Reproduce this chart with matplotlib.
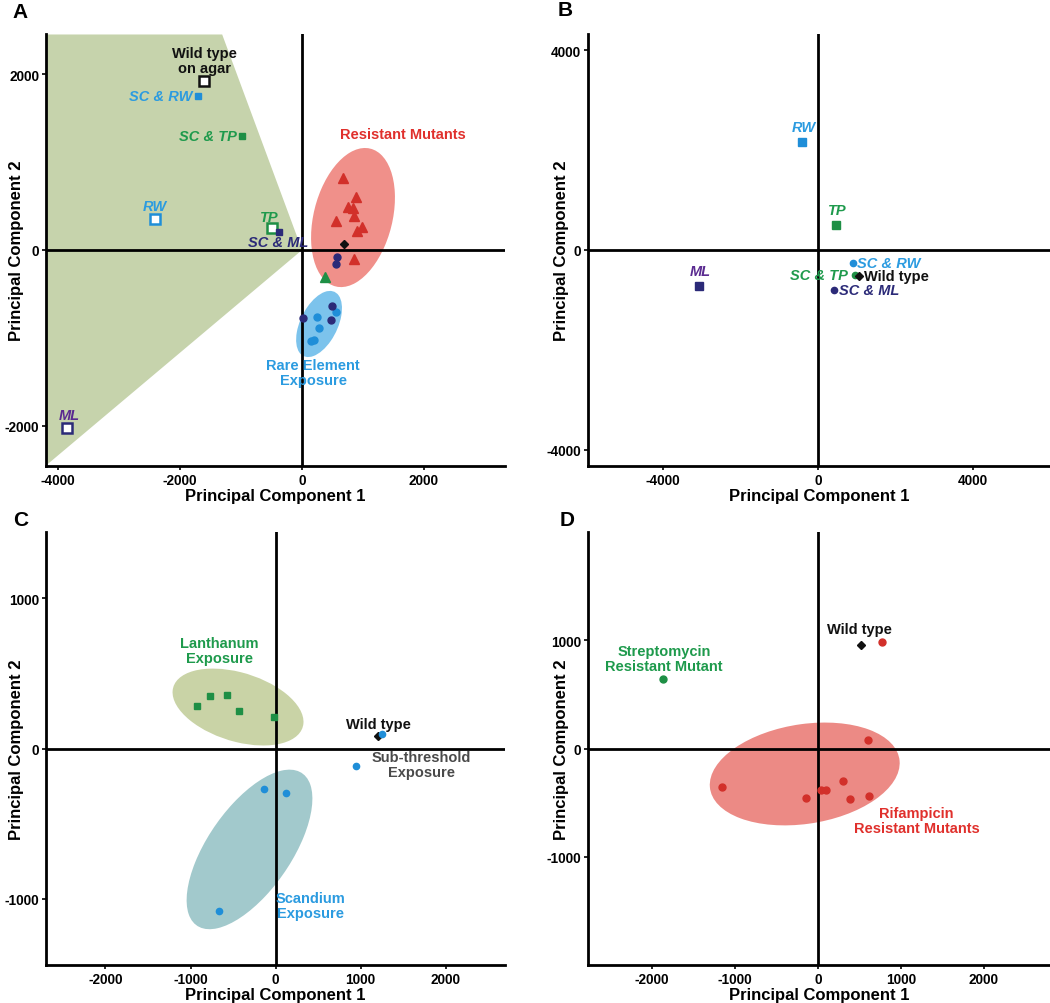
import matplotlib

matplotlib.use("Agg")
import matplotlib.pyplot as plt
from matplotlib.patches import Ellipse, Polygon

plt.rcParams["font.family"] = ["Liberation Sans", "DejaVu Sans"]
plt.rcParams["font.weight"] = "bold"
plt.rcParams["axes.unicode_minus"] = False

BLUE = "#2b9be0"
BLUE_M = "#1f8ed8"
GREEN = "#1e9a4c"
GREEN_M = "#1e8f45"
NAVY = "#2b2a78"
PURPLE = "#5a2a90"
RED = "#e0302c"
RED_M = "#d2302a"
BLACK = "#111111"

# ---------------- panel A ----------------
a_xticks = [-4000, -2000, 0, 2000]
a_yticks = [-2000, 0, 2000]
a_region_x = [-4200, -1310, 0, -4200]
a_region_y = [2450, 2450, 0, -2450]

a_open_names = ["Wild type\non agar", "RW", "TP", "ML"]
a_open_x = [-1610, -2410, -490, -3850]
a_open_y = [1920, 350, 250, -2020]
a_open_colors = [BLACK, BLUE_M, GREEN_M, NAVY]
a_open_textcol = [BLACK, BLUE, GREEN, PURPLE]

a_filled_names = ["SC & RW", "SC & TP", "SC & ML"]
a_filled_x = [-1700, -980, -380]
a_filled_y = [1750, 1300, 205]
a_filled_colors = [BLUE_M, GREEN_M, NAVY]
a_filled_textcol = [BLUE, GREEN, NAVY]

a_resist_x = [672, 885, 754, 836, 852, 557, 984, 902, 852]
a_resist_y = [818, 602, 489, 477, 386, 330, 261, 216, -102]
a_green_tri_x = [377]
a_green_tri_y = [-307]
a_wt_x = [690]
a_wt_y = [68]
a_rare_navy_x = [574, 557, 492, 16, 475]
a_rare_navy_y = [-80, -159, -636, -773, -795]
a_rare_blue_x = [557, 246, 279, 197, 148]
a_rare_blue_y = [-705, -761, -886, -1023, -1034]

# (cx, cy, width, height, angle)
a_resist_ell = (836, 369, 1700, 1226, 58)
a_rare_ell = (279, -841, 914, 544, 45)

# ---------------- panel B ----------------
b_xticks = [-4000, 0, 4000]
b_yticks = [-4000, 0, 4000]
b_sq_names = ["RW", "TP", "ML"]
b_sq_x = [-413, 465, -3071]
b_sq_y = [2160, 500, -720]
b_sq_colors = [BLUE_M, GREEN_M, NAVY]
b_sq_textcol = [BLUE, GREEN, PURPLE]
b_dot_names = ["SC & RW", "SC & TP", "SC & ML"]
b_dot_x = [903, 955, 413]
b_dot_y = [-260, -500, -800]
b_dot_colors = [BLUE_M, GREEN_M, NAVY]
b_dot_textcol = [BLUE, GREEN, NAVY]
b_wt_x = [1058]
b_wt_y = [-520]

# ---------------- panel C ----------------
c_xticks = [-2000, -1000, 0, 1000, 2000]
c_yticks = [-1000, 0, 1000]
c_la_x = [-918, -776, -565, -435, -12]
c_la_y = [286, 352, 359, 252, 213]
c_sc_x = [-141, 129, -670]
c_sc_y = [-266, -299, -1083]
c_sub_x = [941, 1258]
c_sub_y = [-113, 100]
c_wt_x = [1200]
c_wt_y = [86]
c_la_ell = (-441, 276, 1554, 468, -8)
c_sc_ell = (-306, -671, 1670, 725, 31)

# ---------------- panel D ----------------
d_xticks = [-2000, -1000, 0, 1000, 2000]
d_yticks = [-1000, 0, 1000]
d_strep_x = [-1867]
d_strep_y = [645]
d_wt_x = [518]
d_wt_y = [958]
d_rif_x = [771, 602, -1157, -145, 36, 96, 301, 386, 614]
d_rif_y = [986, 83, -359, -461, -387, -387, -304, -470, -442]
d_rif_ell = (-157, -235, 2300, 924, 6)


def setup_axes(ax, xlim, ylim, xticks, yticks, ylab_x):
    ax.set_xlim(*xlim)
    ax.set_ylim(*ylim)
    ax.set_xticks(xticks)
    ax.set_yticks(yticks)
    ax.set_xticklabels([str(t) for t in xticks])
    ax.set_yticklabels([str(t) for t in yticks])
    for side in ("top", "right"):
        ax.spines[side].set_visible(False)
    for side in ("left", "bottom"):
        ax.spines[side].set_linewidth(2)
    ax.tick_params(direction="out", length=3, width=1.2, labelsize=9.8, pad=2)
    ax.axhline(0, color="black", lw=2, zorder=2)
    ax.axvline(0, color="black", lw=2, zorder=2)
    ax.set_xlabel("Principal Component 1", fontsize=12, fontweight="bold")
    ax.set_ylabel("Principal Component 2", fontsize=12, fontweight="bold")
    ax.yaxis.set_label_coords(ylab_x, 0.5)
    ax.xaxis.set_label_coords(0.5, -0.051)


def add_ellipse(ax, ell, color):
    cx, cy, w, h, ang = ell
    ax.add_patch(Ellipse((cx, cy), w, h, angle=ang, facecolor=color,
                         edgecolor="none", zorder=1))


def label(ax, text, x, y, dx, dy, color, ha="center", italic=True, size=10.5):
    ax.annotate(text, (x, y), xytext=(dx, dy), textcoords="offset points",
                ha=ha, va="center", color=color, fontsize=size,
                fontweight="bold", style="italic" if italic else "normal",
                linespacing=1.1, zorder=4)


def group_text(ax, x, y, text, color):
    ax.text(x, y, text, color=color, fontsize=10.5, ha="center", va="center",
            linespacing=1.1, zorder=4)


fig = plt.figure(figsize=(10.5, 10.04), dpi=100)
axA = fig.add_axes([0.0438, 0.5349, 0.4372, 0.4302])
axB = fig.add_axes([0.56, 0.5349, 0.44, 0.4302])
axC = fig.add_axes([0.0438, 0.0378, 0.4372, 0.4313])
axD = fig.add_axes([0.56, 0.0378, 0.44, 0.4313])

for letter, fx, fy in [("A", 20, 12), ("B", 565, 11), ("C", 21, 520), ("D", 567, 520)]:
    fig.text(fx / 1050, 1 - fy / 1004, letter, fontsize=15, fontweight="bold",
             ha="center", va="center")

# ---- A
ax = axA
setup_axes(ax, (-4200, 3330), (-2455, 2455), a_xticks, a_yticks, -0.048)
ax.add_patch(Polygon(list(zip(a_region_x, a_region_y)), closed=True,
                     facecolor="#c6d3ac", edgecolor="none", zorder=0.5))
add_ellipse(ax, a_resist_ell, "#f0908a")
add_ellipse(ax, a_rare_ell, "#7cc3ec")
for x, y, c in zip(a_open_x, a_open_y, a_open_colors):
    ax.plot(x, y, "s", ms=6.5, mfc="white", mec=c, mew=1.8, zorder=3)
for x, y, c in zip(a_filled_x, a_filled_y, a_filled_colors):
    ax.plot(x, y, "s", ms=4.5, color=c, zorder=3)
ax.plot(a_resist_x, a_resist_y, "^", ms=7.5, color=RED_M, ls="none", zorder=3)
ax.plot(a_green_tri_x, a_green_tri_y, "^", ms=7.5, color=GREEN_M, ls="none", zorder=3)
ax.plot(a_rare_blue_x, a_rare_blue_y, "o", ms=5, color=BLUE_M, ls="none", zorder=3)
ax.plot(a_rare_navy_x, a_rare_navy_y, "o", ms=5, color=NAVY, ls="none", zorder=3)
ax.plot(a_wt_x, a_wt_y, "D", ms=4.5, color=BLACK, ls="none", zorder=3)
open_offsets = [(0.5, 15), (0, 9.5), (-2, 8), (1.4, 9.4)]
for name, x, y, c, (dx, dy) in zip(a_open_names, a_open_x, a_open_y,
                                   a_open_textcol, open_offsets):
    label(ax, name, x, y, dx, dy, c, italic=(name != "Wild type\non agar"))
filled_offsets = [(-4.3, 0, "right"), (-3.6, 0, "right"), (-0.7, -7.2, "center")]
for name, x, y, c, (dx, dy, ha) in zip(a_filled_names, a_filled_x, a_filled_y,
                                       a_filled_textcol, filled_offsets):
    label(ax, name, x, y, dx, dy, c, ha=ha)
group_text(ax, 1655, 1318, "Resistant Mutants", RED)
group_text(ax, 180, -1392, "Rare Element\nExposure", BLUE)

# ---- B
ax = axB
setup_axes(ax, (-5940, 5990), (-4320, 4320), b_xticks, b_yticks, -0.041)
for x, y, c in zip(b_sq_x, b_sq_y, b_sq_colors):
    ax.plot(x, y, "s", ms=5.5, color=c, zorder=3)
for name, x, y, c in zip(b_sq_names, b_sq_x, b_sq_y, b_sq_textcol):
    label(ax, name, x, y, 1, 10.5, c)
for x, y, c in zip(b_dot_x, b_dot_y, b_dot_colors):
    ax.plot(x, y, "o", ms=4.5, color=c, zorder=3)
ax.plot(b_wt_x, b_wt_y, "D", ms=4.5, color=BLACK, ls="none", zorder=3)
dot_offsets = [(2.9, 0, "left"), (-5, 0, "right"), (3.6, 0, "left")]
for name, x, y, c, (dx, dy, ha) in zip(b_dot_names, b_dot_x, b_dot_y,
                                       b_dot_textcol, dot_offsets):
    label(ax, name, x, y, dx, dy, c, ha=ha)
label(ax, "Wild type", b_wt_x[0], b_wt_y[0], 3.6, 0, BLACK, ha="left", italic=False)

# ---- C
ax = axC
setup_axes(ax, (-2700, 2700), (-1440, 1440), c_xticks, c_yticks, -0.048)
add_ellipse(ax, c_la_ell, "#c9d3a6")
add_ellipse(ax, c_sc_ell, "#a2c9cc")
ax.plot(c_la_x, c_la_y, "s", ms=5, color=GREEN_M, ls="none", zorder=3)
ax.plot(c_sc_x, c_sc_y, "o", ms=4.5, color=BLUE_M, ls="none", zorder=3)
ax.plot(c_wt_x, c_wt_y, "D", ms=4.5, color=BLACK, ls="none", zorder=3)
ax.plot(c_sub_x, c_sub_y, "o", ms=4.5, color=BLUE_M, ls="none", zorder=3)
label(ax, "Wild type", c_wt_x[0], c_wt_y[0], 1, 8.6, BLACK, italic=False)
group_text(ax, -659, 651, "Lanthanum\nExposure", GREEN)
group_text(ax, 1717, -106, "Sub-threshold\nExposure", "#4a4a4a")
group_text(ax, 412, -1043, "Scandium\nExposure", BLUE)

# ---- D
ax = axD
setup_axes(ax, (-2770, 2800), (-2000, 2000), d_xticks, d_yticks, -0.041)
add_ellipse(ax, d_rif_ell, "#ec8a85")
ax.plot(d_rif_x, d_rif_y, "o", ms=5, color=RED_M, ls="none", zorder=3)
ax.plot(d_strep_x, d_strep_y, "o", ms=5, color=GREEN_M, ls="none", zorder=3)
ax.plot(d_wt_x, d_wt_y, "D", ms=4.5, color=BLACK, ls="none", zorder=3)
label(ax, "Wild type", d_wt_x[0], d_wt_y[0], -0.7, 11.5, BLACK, italic=False)
group_text(ax, -1855, 829, "Streptomycin\nResistant Mutant", GREEN)
group_text(ax, 1193, -664, "Rifampicin\nResistant Mutants", RED)

fig.savefig("out.png", dpi=100)
plt.close(fig)
